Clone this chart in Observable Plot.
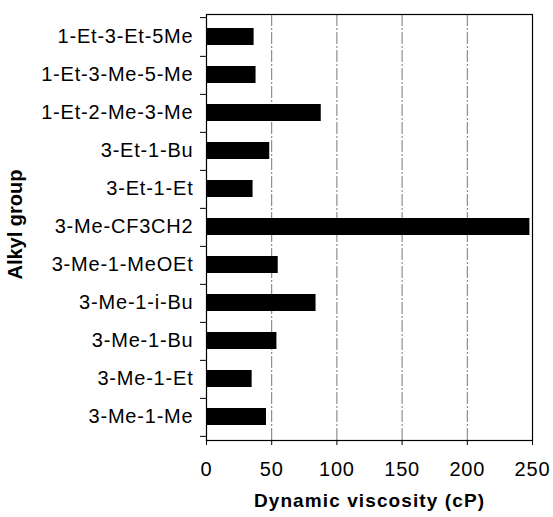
<!DOCTYPE html>
<html>
<head>
<meta charset="utf-8">
<script src="https://cdn.jsdelivr.net/npm/d3@7"></script>
<script src="https://cdn.jsdelivr.net/npm/@observablehq/plot@0.6"></script>
<style>
  html, body { margin: 0; padding: 0; background: #fff; }
</style>
</head>
<body>
<div id="chart"></div>
<script>
const categories = ["1-Et-3-Et-5Me","1-Et-3-Me-5-Me","1-Et-2-Me-3-Me","3-Et-1-Bu","3-Et-1-Et","3-Me-CF3CH2","3-Me-1-MeOEt","3-Me-1-i-Bu","3-Me-1-Bu","3-Me-1-Et","3-Me-1-Me"];
const values = [36.5, 38, 88, 48.5, 35.7, 248, 55, 84, 54, 35, 46];
const xTicks = [0, 50, 100, 150, 200, 250];
const gridValues = [50, 100, 150, 200];
const xLabel = "Dynamic viscosity (cP)";
const yLabel = "Alkyl group";

const data = categories.map((c, i) => ({group: c, value: values[i]}));

const W = 553, H = 517;
const mTop = 14, mBottom = 77, mLeft = 206, mRight = 21;
const step = (H - mTop - mBottom) / categories.length;

const chart = Plot.plot({
  width: W,
  height: H,
  marginTop: mTop,
  marginBottom: mBottom,
  marginLeft: mLeft,
  marginRight: mRight,
  style: {fontFamily: "'Liberation Sans', Arial, sans-serif", fontSize: "20px", color: "#000", background: "#fff"},
  x: {domain: [0, 250], ticks: xTicks},
  y: {domain: categories, paddingInner: 0.54, paddingOuter: 0.27},
  marks: [
    Plot.ruleX(gridValues, {stroke: "#777", strokeWidth: 1, strokeDasharray: "12,2,2,2"}),
    Plot.barX(data, {x: "value", y: "group", fill: "#000"}),
    Plot.frame({stroke: "#000", strokeWidth: 1.2}),
    Plot.axisX({ticks: xTicks, tickSize: 5, tickPadding: 16, label: null, stroke: "#000"}),
    Plot.axisY({tickSize: 0, tickPadding: 13, label: null}),
    Plot.axisY({ticks: categories, tickSize: 6, tickFormat: () => "", dy: step / 2, label: null}),
    Plot.axisY({ticks: categories.slice(0, 1), tickSize: 6, tickFormat: () => "", dy: -step / 2, label: null}),
    Plot.text([xLabel], {frameAnchor: "bottom", dy: 66, fontWeight: "bold", fontSize: 19}),
    Plot.text([yLabel], {frameAnchor: "left", textAnchor: "middle", rotate: -90, dx: -191, dy: -3, fontWeight: "bold", fontSize: 20})
  ]
});

const svg = d3.select(chart);
svg.selectAll("text").each(function() {
  const t = d3.select(this);
  const s = t.text();
  if (s === yLabel) t.style("letter-spacing", "0px");
  else if (s === xLabel) t.style("letter-spacing", "1.1px");
  else t.style("letter-spacing", "0.8px");
});

document.getElementById("chart").appendChild(chart);
</script>
</body>
</html>
